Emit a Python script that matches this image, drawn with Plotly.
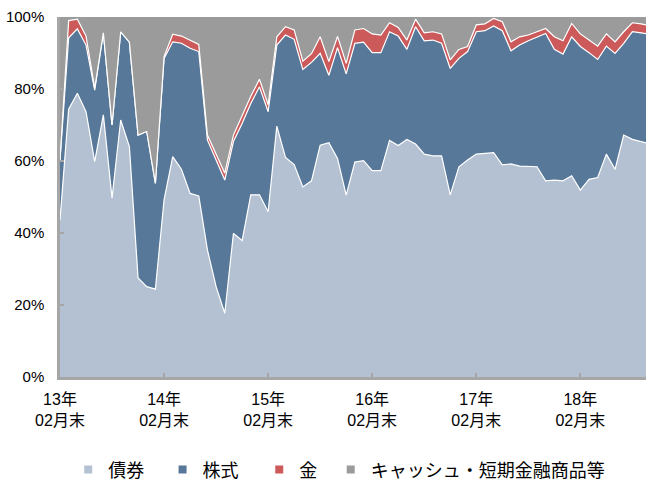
import plotly.graph_objects as go

# Month-end categories: 2013-02 .. 2018-10
months = []
for yy in range(13, 19):
    for mm in range(1, 13):
        if (yy == 13 and mm < 2) or (yy == 18 and mm > 10):
            continue
        months.append(f"{yy}年{mm:02d}月末")

tick_months = ["13年02月末", "14年02月末", "15年02月末", "16年02月末", "17年02月末", "18年02月末"]
tick_text = [m.replace("年", "年<br>") for m in tick_months]

bond = [43.6, 74.4, 78.8, 73.7, 59.8, 72.8, 49.7, 71.4, 64.0, 27.5, 25.1, 24.4,
        49.2, 61.2, 57.7, 51.0, 50.3, 35.3, 25.1, 17.7, 39.9, 37.9, 50.6, 50.6,
        45.9, 69.7, 61.0, 59.0, 52.8, 54.5, 64.4, 65.1, 60.7, 50.5, 59.7, 60.1,
        57.3, 57.3, 65.7, 64.3, 66.0, 64.7, 61.9, 61.4, 61.4, 50.6, 58.4, 60.3,
        61.9, 62.1, 62.3, 58.9, 59.2, 58.6, 58.4, 58.4, 54.5, 54.7, 54.5, 55.9,
        51.9, 54.9, 55.4, 61.9, 57.7, 67.2, 66.0, 65.4, 64.8]
stock = [16.7, 19.8, 17.9, 18.5, 19.9, 22.8, 20.3, 24.5, 29.0, 39.7, 43.1, 29.4,
         39.3, 31.9, 35.0, 40.3, 40.1, 30.5, 35.2, 37.0, 25.5, 32.5, 25.4, 30.0,
         27.8, 22.5, 34.0, 34.8, 32.6, 32.9, 25.5, 18.7, 30.8, 33.7, 33.0, 32.9,
         32.8, 32.8, 30.2, 30.4, 25.0, 32.6, 31.5, 32.2, 31.3, 35.1, 30.1, 30.1,
         34.0, 34.1, 35.2, 37.3, 31.4, 33.6, 35.0, 36.1, 40.9, 36.3, 35.2, 38.6,
         39.9, 35.2, 32.8, 30.0, 32.2, 25.5, 29.9, 30.2, 30.4]
gold = [0.0, 4.8, 2.7, 2.5, 0.5, 0.0, 0.0, 0.0, 0.0, 0.0, 0.0, 0.0,
        0.5, 2.1, 2.0, 2.3, 2.0, 1.4, 1.4, 1.9, 1.8, 2.1, 2.0, 2.1,
        1.9, 2.3, 2.3, 2.6, 2.3, 2.4, 4.6, 3.8, 3.1, 2.9, 3.7, 3.8,
        5.2, 4.9, 2.5, 2.4, 2.6, 2.1, 2.2, 2.3, 2.6, 2.4, 2.5, 1.4,
        1.9, 1.9, 2.1, 2.5, 2.5, 2.3, 1.6, 1.4, 1.4, 3.5, 3.7, 3.7,
        3.5, 3.5, 3.7, 3.4, 3.2, 3.2, 2.5, 2.5, 2.4]
cash = [39.7, 1.0, 0.6, 5.3, 19.8, 4.4, 30.0, 4.1, 7.0, 32.8, 31.8, 46.2,
        11.0, 4.8, 5.3, 6.4, 7.6, 32.8, 38.3, 43.4, 32.8, 27.5, 22.0, 17.3,
        24.4, 5.5, 2.7, 3.6, 12.3, 10.2, 5.5, 12.4, 5.4, 12.9, 3.6, 3.2,
        4.7, 5.0, 1.6, 2.9, 6.4, 0.6, 4.4, 4.1, 4.7, 11.9, 9.0, 8.2,
        2.2, 1.9, 0.4, 1.3, 6.9, 5.5, 5.0, 4.1, 3.2, 5.5, 6.6, 1.8,
        4.7, 6.4, 8.1, 4.7, 6.9, 4.1, 1.6, 1.9, 2.4]

series = [
    ("債券", bond, "#B3C1D2"),
    ("株式", stock, "#587899"),
    ("金", gold, "#CC5A5A"),
    ("キャッシュ・短期金融商品等", cash, "#9B9B9B"),
]

FONT = "Liberation Sans, Arial, Noto Sans CJK JP, sans-serif"

fig = go.Figure()
for name, vals, color in series:
    is_top = name == series[-1][0]
    fig.add_trace(go.Scatter(
        x=months, y=vals, name=name, mode="lines",
        stackgroup="one",
        line=dict(color="white", width=0 if is_top else 1.2),
        fillcolor=color,
        showlegend=False,
        hoverinfo="skip",
    ))

# legend entries (small squares), one legend box per entry for exact spacing
legend_ids = ["legend", "legend2", "legend3", "legend4"]
legend_x = [0.014, 0.175, 0.340, 0.462]
for (name, vals, color), lid in zip(series, legend_ids):
    fig.add_trace(go.Scatter(
        x=[None], y=[None], mode="markers", name=name,
        marker=dict(symbol="square", size=8, color=color),
        showlegend=True, legend=lid,
    ))

legend_common = dict(
    orientation="h", xanchor="left", y=-0.258, yanchor="middle",
    font=dict(size=18, family=FONT), itemwidth=30,
    bgcolor="rgba(0,0,0,0)",
)

fig.update_layout(
    width=646, height=481,
    margin=dict(l=60, r=0, t=17, b=104, autoexpand=False),
    paper_bgcolor="white", plot_bgcolor="white",
    font=dict(family=FONT, color="#000000", size=15),
    showlegend=True,
    **{lid: dict(x=lx, **legend_common) for lid, lx in zip(legend_ids, legend_x)},
)

fig.update_xaxes(
    type="category",
    categoryorder="array", categoryarray=months,
    range=[0, 67.57],
    tickmode="array", tickvals=tick_months, ticktext=tick_text,
    ticks="inside", ticklen=4, tickwidth=1.5, tickcolor="#A6A6A6",
    showline=True, linecolor="#A6A6A6", linewidth=2.5,
    showgrid=False, zeroline=False,
    tickfont=dict(size=16, family=FONT),
    ticklabelstandoff=6,
)
fig.update_yaxes(
    range=[0, 100],
    tickmode="array", tickvals=[0, 20, 40, 60, 80, 100],
    ticktext=["0%", "20%", "40%", "60%", "80%", "100%"],
    ticks="inside", ticklen=4, tickwidth=1.5, tickcolor="#A6A6A6",
    showline=True, linecolor="#A6A6A6", linewidth=2.5,
    showgrid=False, zeroline=False,
    tickfont=dict(size=15, family=FONT),
    ticklabelstandoff=10,
)

fig.write_html(
    "out.html",
    config={"displayModeBar": False},
    post_script="document.body.style.margin='0px';document.body.style.overflow='hidden';",
)
